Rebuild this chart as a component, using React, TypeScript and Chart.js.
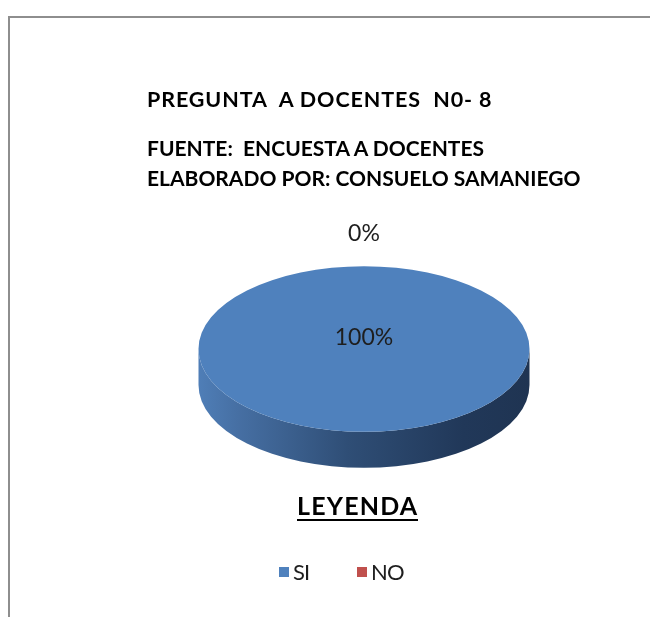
import React, { useEffect, useRef } from "react";
import { Chart, registerables } from "chart.js";

Chart.register(...registerables);

const categories = ["SI", "NO"];
const values = [100, 0];
const colors = ["#4F81BD", "#C0504D"];
const titleText = "PREGUNTA  A DOCENTES  N0- 8";
const sourceLines = ["FUENTE:  ENCUESTA A DOCENTES", "ELABORADO POR: CONSUELO SAMANIEGO"];
const legendTitle = "LEYENDA";

const FONT = "Lato, 'Open Sans', sans-serif";
const TILT = 0.5;
const DEPTH = 36;

const pie3d = {
  id: "pie3d",
  beforeDatasetsDraw(chart: any) {
    const ctx = chart.ctx;
    const meta = chart.getDatasetMeta(0);
    const arcs = meta.data;
    if (!arcs.length) return;
    const { x, y, outerRadius: r } = arcs[0];
    ctx.save();
    arcs.forEach((arc: any, i: number) => {
      const a0 = arc.startAngle;
      const a1 = arc.endAngle;
      if (a1 - a0 <= 1e-6) return;
      const segs: [number, number][] = [];
      for (let k = -1; k <= 1; k++) {
        const s = Math.max(a0, 0 + k * 2 * Math.PI);
        const e = Math.min(a1, Math.PI + k * 2 * Math.PI);
        if (e > s) segs.push([s, e]);
      }
      segs.forEach(([s, e]) => {
        const g = ctx.createLinearGradient(x - r, 0, x + r, 0);
        if (i === 0) {
          g.addColorStop(0, "#4F7EB7");
          g.addColorStop(0.12, "#466FA3");
          g.addColorStop(0.45, "#2F4E76");
          g.addColorStop(0.8, "#213859");
          g.addColorStop(1, "#1F3452");
        } else {
          g.addColorStop(0, "#C0504D");
          g.addColorStop(1, "#5E2725");
        }
        ctx.beginPath();
        ctx.ellipse(x, y, r, r * TILT, 0, s, e, false);
        ctx.ellipse(x, y + DEPTH, r, r * TILT, 0, e, s, true);
        ctx.closePath();
        ctx.fillStyle = g;
        ctx.fill();
      });
    });
    ctx.restore();
    ctx.save();
    ctx.translate(x, y);
    ctx.scale(1, TILT);
    ctx.translate(-x, -y);
  },
  afterDatasetsDraw(chart: any) {
    const ctx = chart.ctx;
    ctx.restore();
    const meta = chart.getDatasetMeta(0);
    const arcs = meta.data;
    const total = values.reduce((a, b) => a + b, 0);
    ctx.save();
    ctx.fillStyle = "#1E1E1E";
    ctx.font = `23px ${FONT}`;
    ctx.textAlign = "center";
    ctx.textBaseline = "middle";
    arcs.forEach((arc: any, i: number) => {
      const pct = Math.round((values[i] / total) * 100) + "%";
      const { x, y, outerRadius: r, startAngle, endAngle } = arc;
      const span = endAngle - startAngle;
      let lx: number, ly: number;
      if (span >= 2 * Math.PI - 1e-6) {
        lx = x;
        ly = y - 11;
      } else if (span <= 1e-6) {
        lx = x + Math.cos(startAngle) * r;
        ly = y + Math.sin(startAngle) * r * TILT - 33;
      } else {
        const m = (startAngle + endAngle) / 2;
        lx = x + Math.cos(m) * r * 0.6;
        ly = y + Math.sin(m) * r * TILT * 0.6;
      }
      ctx.fillText(pct, lx, ly);
    });
    ctx.restore();
  },
};

export default function App() {
  const ref = useRef<HTMLCanvasElement | null>(null);
  useEffect(() => {
    if (!ref.current) return;
    const chart = new Chart(ref.current, {
      type: "pie",
      data: {
        labels: categories,
        datasets: [
          {
            data: values,
            backgroundColor: colors,
            borderWidth: 0,
            hoverOffset: 0,
            clip: false as any,
          },
        ],
      },
      options: {
        responsive: false,
        animation: false,
        events: [],
        layout: { padding: { left: 198.5, right: 120.5, top: 100, bottom: 19 } },
        plugins: {
          legend: { display: false },
          tooltip: { enabled: false },
          title: { display: false },
        },
      },
      plugins: [pie3d],
    });
    return () => chart.destroy();
  }, []);

  const abs = (o: any): React.CSSProperties => ({ position: "absolute", whiteSpace: "pre", lineHeight: 1, fontFamily: FONT, ...o });

  return (
    <div style={{ position: "fixed", left: 0, top: 0, width: 650, height: 617, overflow: "hidden", background: "#fff" }}>
      <div
        style={{
          position: "absolute",
          left: 8,
          top: 16,
          width: 700,
          height: 700,
          borderTop: "2px solid #8E8E8E",
          borderLeft: "2px solid #8E8E8E",
        }}
      />
      <canvas ref={ref} width={650} height={617} style={{ position: "absolute", left: 0, top: 0, width: 650, height: 617 }} />
      <div style={abs({ left: 147, top: 88.5, fontSize: 21.5, fontWeight: 700, color: "#000", letterSpacing: 0.9 })}>{titleText}</div>
      {sourceLines.map((t, i) => (
        <div key={t} style={abs({ left: 147, top: 136.5 + i * 30, fontSize: 21, fontWeight: 700, color: "#000" })}>
          {t}
        </div>
      ))}
      <div
        style={abs({
          left: 297,
          top: 493,
          fontSize: 25,
          fontWeight: 700,
          color: "#000",
          letterSpacing: 1.2,
          borderBottom: "2.5px solid #000",
          paddingBottom: 1,
        })}
      >
        {legendTitle}
      </div>
      <div style={abs({ left: 279, top: 561, display: "flex", alignItems: "center", fontSize: 22, color: "#1E1E1E", letterSpacing: -1 })}>
        {categories.map((c, i) => (
          <div key={c} style={{ display: "flex", alignItems: "center", marginRight: i === 0 ? 48 : 0 }}>
            <span style={{ display: "inline-block", width: 10, height: 10, background: colors[i], marginRight: 4 }} />
            <span>{c}</span>
          </div>
        ))}
      </div>
    </div>
  );
}
